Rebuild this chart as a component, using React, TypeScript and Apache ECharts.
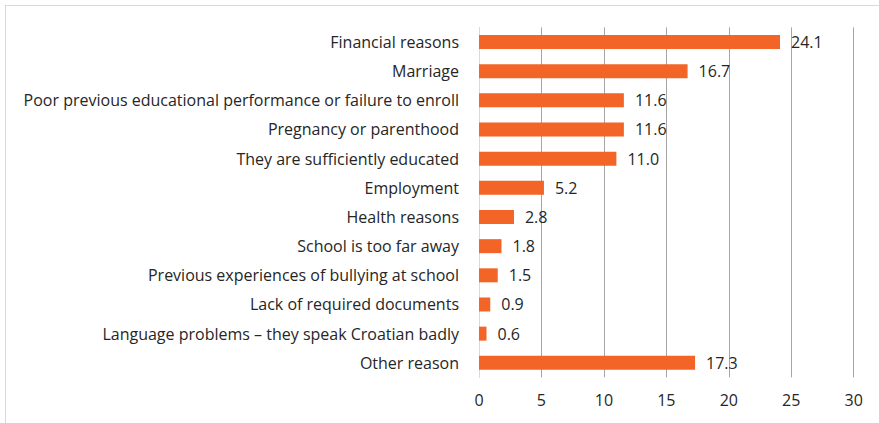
import React, { useEffect, useRef } from "react";
import * as echarts from "echarts";

const categories = [
  "Financial reasons",
  "Marriage",
  "Poor previous educational performance or failure to enroll",
  "Pregnancy or parenthood",
  "They are sufficiently educated",
  "Employment",
  "Health reasons",
  "School is too far away",
  "Previous experiences of bullying at school",
  "Lack of required documents",
  "Language problems – they speak Croatian badly",
  "Other reason",
];
const values = [24.1, 16.7, 11.6, 11.6, 11.0, 5.2, 2.8, 1.8, 1.5, 0.9, 0.6, 17.3];

export default function App() {
  const ref = useRef<HTMLDivElement>(null);
  useEffect(() => {
    document.body.style.margin = "0";
    const chart = echarts.init(ref.current!, null, { renderer: "svg" });
    const font = "Open Sans";
    chart.setOption({
      animation: false,
      backgroundColor: "#ffffff",
      grid: { left: 479, right: 879 - 853.7, top: 27.4, bottom: 423 - 377.4, containLabel: false },
      xAxis: {
        type: "value",
        min: 0,
        max: 30,
        interval: 5,
        axisLine: { show: false },
        axisTick: { show: false },
        splitLine: { show: true, lineStyle: { color: "#a6a6a6", width: 1 } },
        axisLabel: { color: "#262626", fontSize: 16, fontFamily: font, margin: 15 },
      },
      yAxis: {
        type: "category",
        data: categories,
        inverse: true,
        axisLine: { show: true, lineStyle: { color: "#d9d9d9" } },
        axisTick: { show: false },
        axisLabel: { color: "#262626", fontSize: 16, fontFamily: font, margin: 20 },
      },
      series: [
        {
          type: "bar",
          data: values,
          barWidth: 14,
          itemStyle: { color: "#F26526" },
          label: {
            show: true,
            position: "right",
            distance: 11,
            color: "#262626",
            fontSize: 16,
            fontFamily: font,
            formatter: (p: any) => Number(p.value).toFixed(1),
          },
        },
      ],
    });
    return () => chart.dispose();
  }, []);
  return (
    <div style={{ position: "relative", width: 879, height: 423 }}>
      <div ref={ref} style={{ width: 879, height: 423 }} />
      <div
        style={{
          position: "absolute",
          left: 5,
          top: 5,
          width: 880,
          height: 430,
          border: "1px solid #d9d9d9",
          boxSizing: "border-box",
          pointerEvents: "none",
        }}
      />
    </div>
  );
}
